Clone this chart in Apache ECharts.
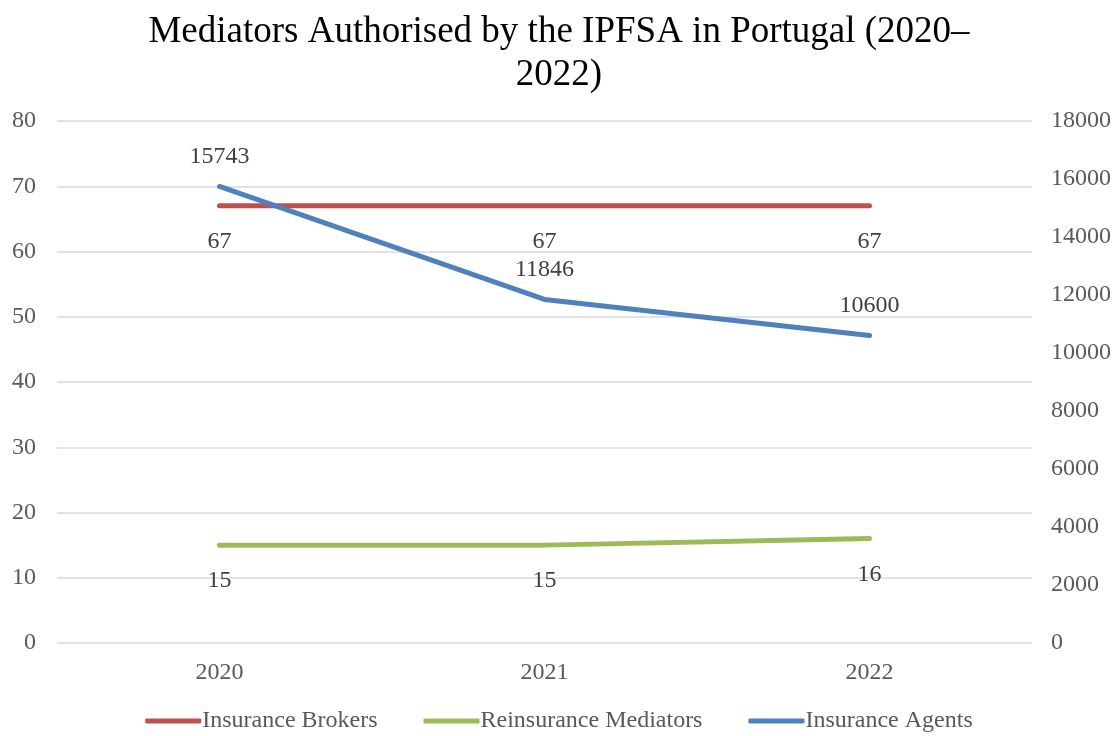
<!DOCTYPE html>
<html>
<head>
<meta charset="utf-8">
<script src="https://cdn.jsdelivr.net/npm/echarts@6/dist/echarts.min.js"></script>
<style>html,body{margin:0;padding:0;background:#fff;}#c{width:1118px;height:736px;}</style>
</head>
<body>
<div id="c"></div>
<script>
const categories = ['2020', '2021', '2022'];
const brokers = [67, 67, 67];
const reinsurance = [15, 15, 16];
const agents = [15743, 11846, 10600];
const seriesNames = ['Insurance Brokers', 'Reinsurance Mediators', 'Insurance Agents'];
const titleText = 'Mediators Authorised by the IPFSA in Portugal (2020–\n2022)';

const font = 'Liberation Serif, Times New Roman, serif';
const chart = echarts.init(document.getElementById('c'));
const labelStyle = {show: true, color: '#404040', fontSize: 24, fontFamily: font};
const axisLabelStyle = {fontFamily: font, fontSize: 24, color: '#595959'};
chart.setOption({
  animation: false,
  title: {
    text: titleText, left: 'center', top: 6,
    textStyle: {fontFamily: font, fontSize: 37, fontWeight: 'normal', color: '#000', lineHeight: 43}
  },
  legend: {
    bottom: -2, left: 'center', itemWidth: 56, itemHeight: 5, itemGap: 46,
    icon: 'roundRect',
    textStyle: {fontFamily: font, fontSize: 24, color: '#595959', padding: [0, 0, 0, -4]},
    data: seriesNames
  },
  grid: {left: 57, right: 86, top: 121, bottom: 93},
  xAxis: {
    type: 'category', data: categories, boundaryGap: true,
    axisLine: {show: false}, axisTick: {show: false},
    axisLabel: Object.assign({margin: 18}, axisLabelStyle)
  },
  yAxis: [
    {type: 'value', min: 0, max: 80, interval: 10,
     axisLine: {show: false}, axisTick: {show: false},
     axisLabel: Object.assign({margin: 21}, axisLabelStyle),
     splitLine: {lineStyle: {color: '#d9d9d9', width: 1.5}}},
    {type: 'value', min: 0, max: 18000, interval: 2000,
     axisLine: {show: false}, axisTick: {show: false},
     axisLabel: Object.assign({margin: 19, formatter: v => String(v)}, axisLabelStyle),
     splitLine: {show: false}}
  ],
  series: [
    {name: seriesNames[0], type: 'line', data: brokers, yAxisIndex: 0, symbol: 'circle', symbolSize: 0, showSymbol: true,
     lineStyle: {color: '#C0504D', width: 5, cap: 'round'}, itemStyle: {color: '#C0504D'},
     label: Object.assign({position: 'bottom', distance: 24}, labelStyle)},
    {name: seriesNames[1], type: 'line', data: reinsurance, yAxisIndex: 0, symbol: 'circle', symbolSize: 0, showSymbol: true,
     lineStyle: {color: '#9BBB59', width: 5, cap: 'round'}, itemStyle: {color: '#9BBB59'},
     label: Object.assign({position: 'bottom', distance: 24}, labelStyle)},
    {name: seriesNames[2], type: 'line', data: agents, yAxisIndex: 1, symbol: 'circle', symbolSize: 0, showSymbol: true,
     lineStyle: {color: '#4F81BD', width: 5, cap: 'round'}, itemStyle: {color: '#4F81BD'},
     label: Object.assign({position: 'top', distance: 18}, labelStyle)}
  ]
});
</script>
</body>
</html>
